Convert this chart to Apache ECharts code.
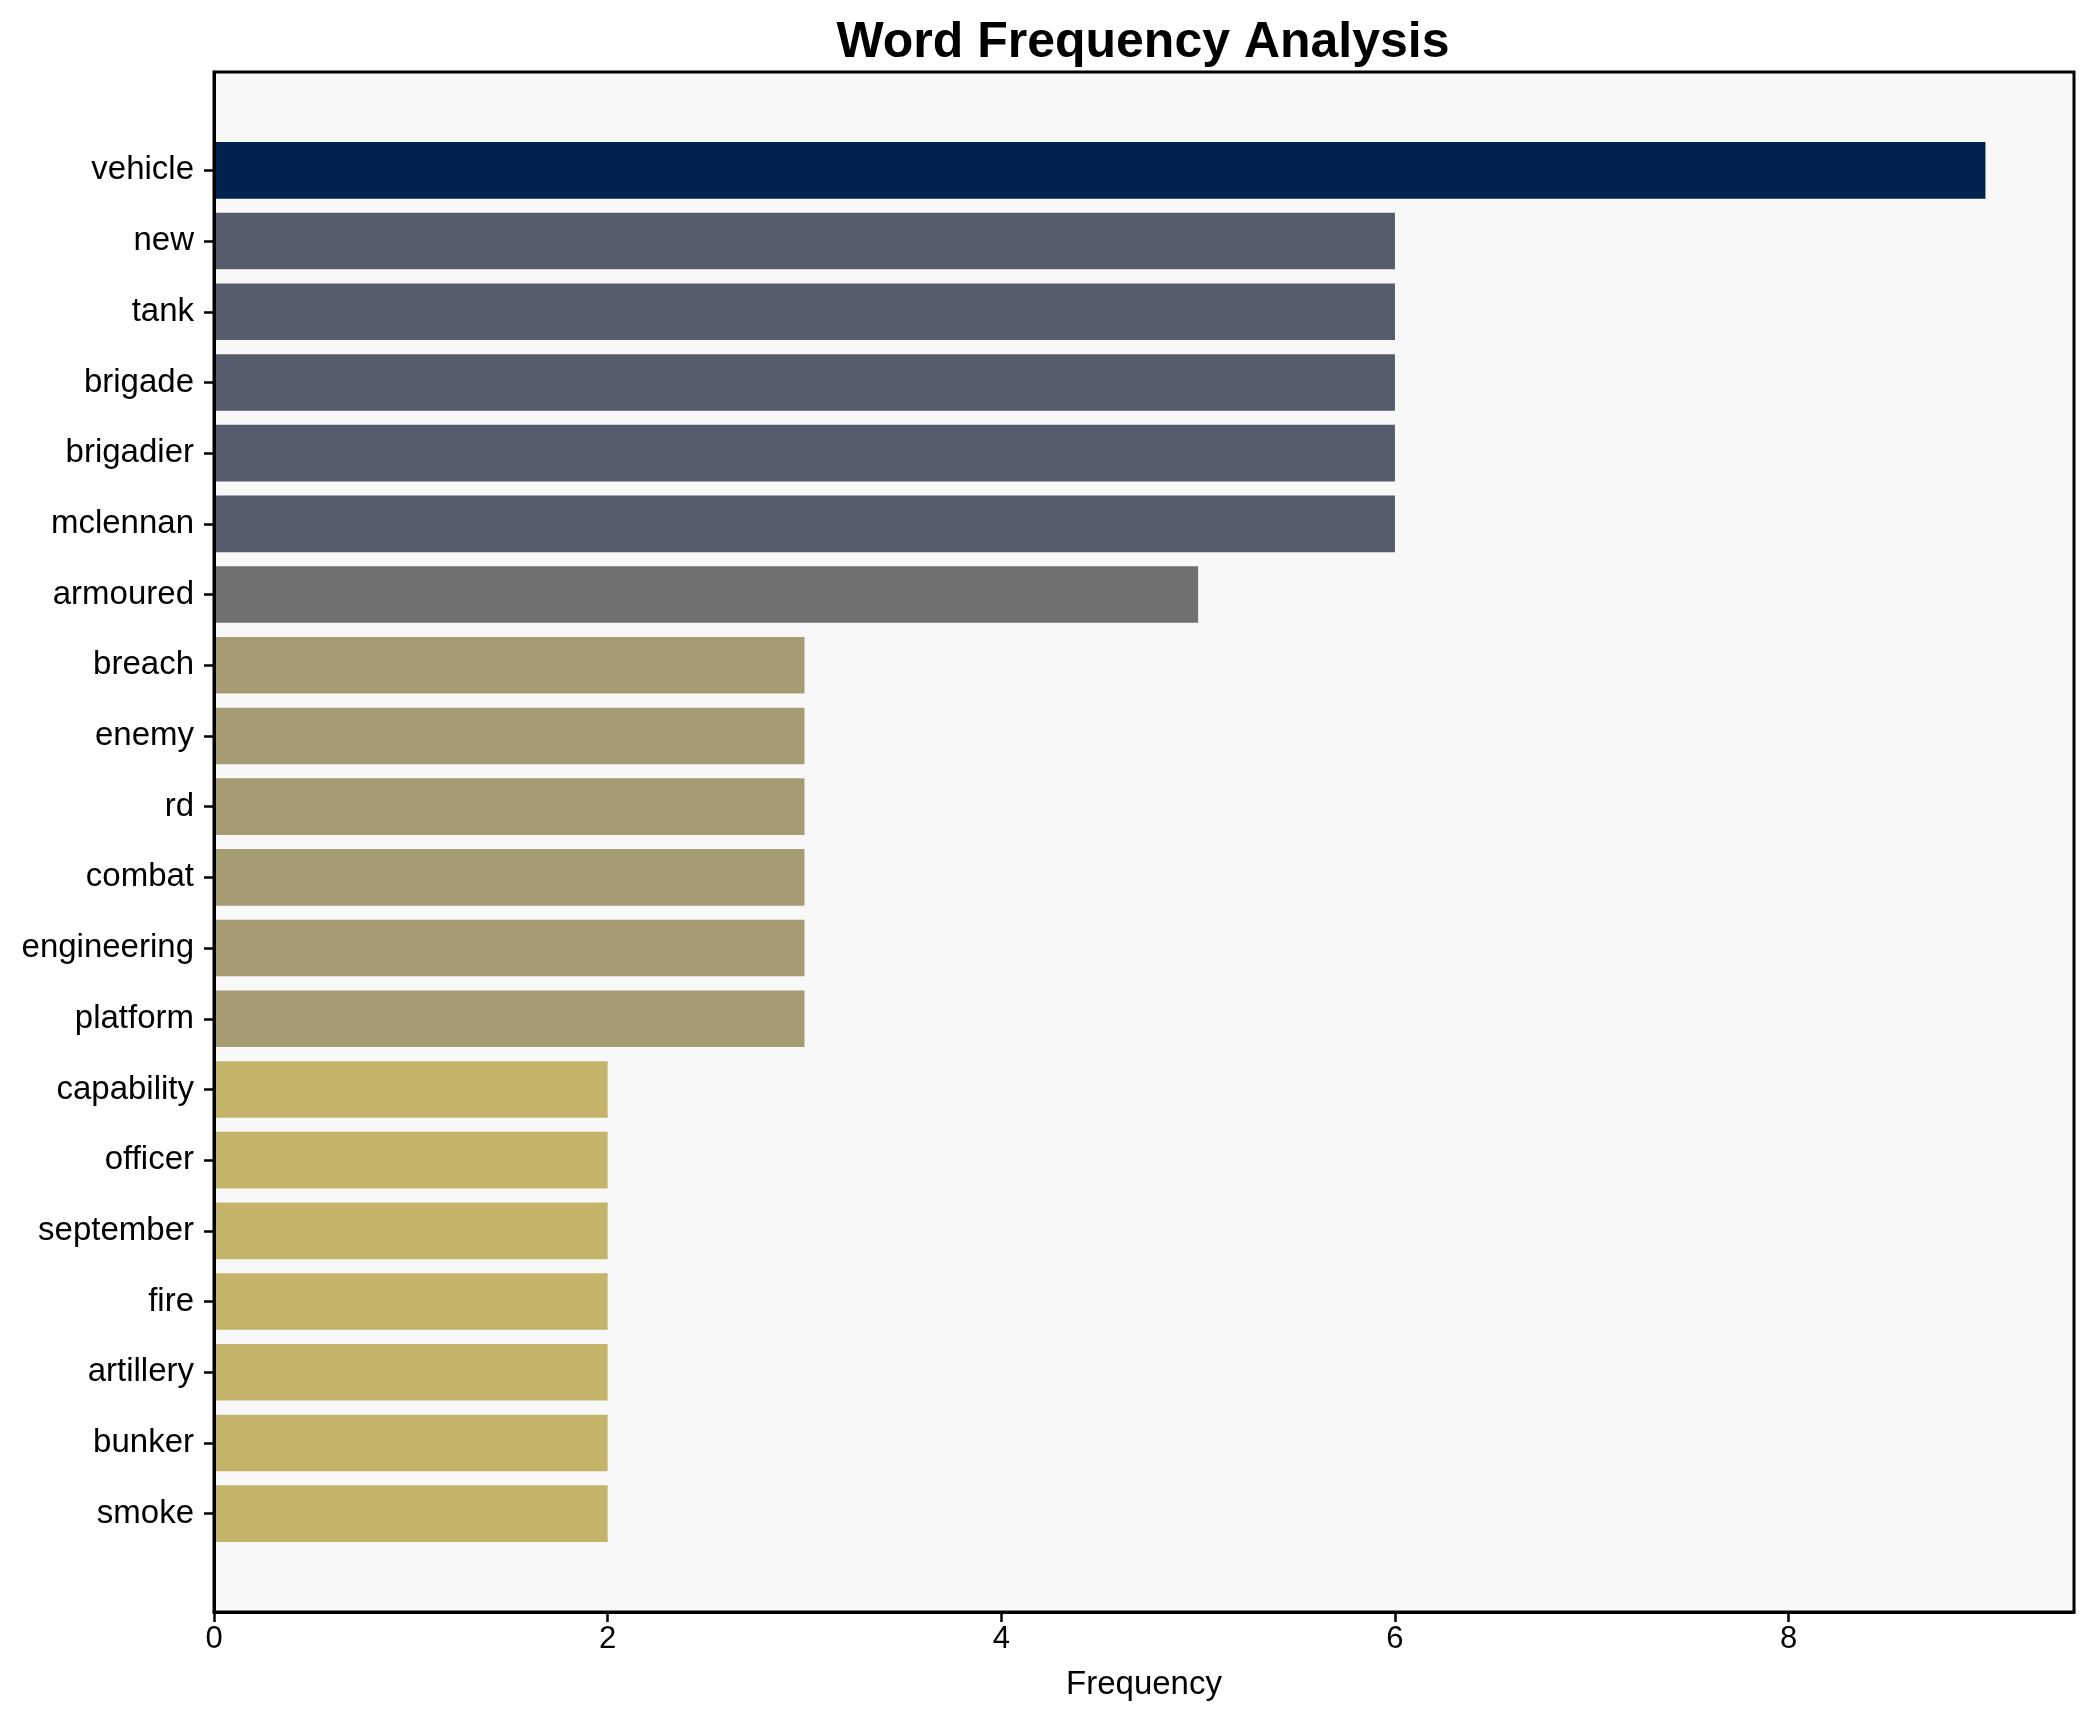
<!DOCTYPE html>
<html>
<head>
<meta charset="utf-8">
<script src="https://cdn.jsdelivr.net/npm/echarts@6/dist/echarts.min.js"></script>
<style>html,body{margin:0;padding:0;background:#fff;}#c{width:2093px;height:1722px;}</style>
</head>
<body>
<div id="c"></div>
<script>
const words = ["vehicle","new","tank","brigade","brigadier","mclennan","armoured","breach","enemy","rd","combat","engineering","platform","capability","officer","september","fire","artillery","bunker","smoke"];
const frequencies = [9,6,6,6,6,6,5,3,3,3,3,3,3,2,2,2,2,2,2,2];
const barColors = ["#00224e","#575c6d","#575c6d","#575c6d","#575c6d","#575c6d","#707071","#a59c74","#a59c74","#a59c74","#a59c74","#a59c74","#a59c74","#c4b46a","#c4b46a","#c4b46a","#c4b46a","#c4b46a","#c4b46a","#c4b46a"];
const xTicks = [0,2,4,6,8];
const xMax = 9.45;

const font = "'Liberation Sans', Arial, sans-serif";
const chart = echarts.init(document.getElementById('c'), null, {renderer:'canvas'});
chart.setOption({
  animation:false,
  backgroundColor:'#ffffff',
  title:{
    text:'Word Frequency Analysis',
    left:1138, top:13, textAlign:'center',
    textStyle:{fontFamily:font, fontWeight:'bold', fontSize:50, color:'#000'}
  },
  grid:[
    {left:214, top:72, right:19, bottom:110, show:true, backgroundColor:'#f8f8f8', borderColor:'#000', borderWidth:3, z:0},
    {left:214, top:135, right:19, bottom:173}
  ],
  xAxis:[
    {gridIndex:0, type:'value', min:0, max:xMax,
     axisLine:{show:true, lineStyle:{color:'#000', width:3}},
     axisTick:{show:true, customValues:xTicks, length:10, lineStyle:{color:'#000', width:2.5}},
     axisLabel:{fontFamily:font, fontSize:31, color:'#000', margin:12, customValues:xTicks},
     splitLine:{show:false},
     name:'Frequency', nameLocation:'middle', nameGap:56,
     nameTextStyle:{fontFamily:font, fontSize:33, color:'#000'}, z:10},
    {gridIndex:1, type:'value', min:0, max:xMax, show:false}
  ],
  yAxis:[
    {gridIndex:0, type:'value', min:0, max:1, axisLine:{show:true, lineStyle:{color:'#000', width:3}},
     axisTick:{show:false}, axisLabel:{show:false}, splitLine:{show:false}, z:10},
    {gridIndex:1, type:'category', data:words, inverse:true,
     axisLine:{show:false},
     axisTick:{show:true, alignWithLabel:true, length:10, lineStyle:{color:'#000', width:2.5}},
     axisLabel:{fontFamily:font, fontSize:33, color:'#000', margin:20},
     splitLine:{show:false}}
  ],
  series:[{
    type:'bar', xAxisIndex:1, yAxisIndex:1,
    barCategoryGap:'20%',
    data: frequencies.map((v,i)=>({value:v, itemStyle:{color:barColors[i]}})),
    z:2
  }]
});
</script>
</body>
</html>
